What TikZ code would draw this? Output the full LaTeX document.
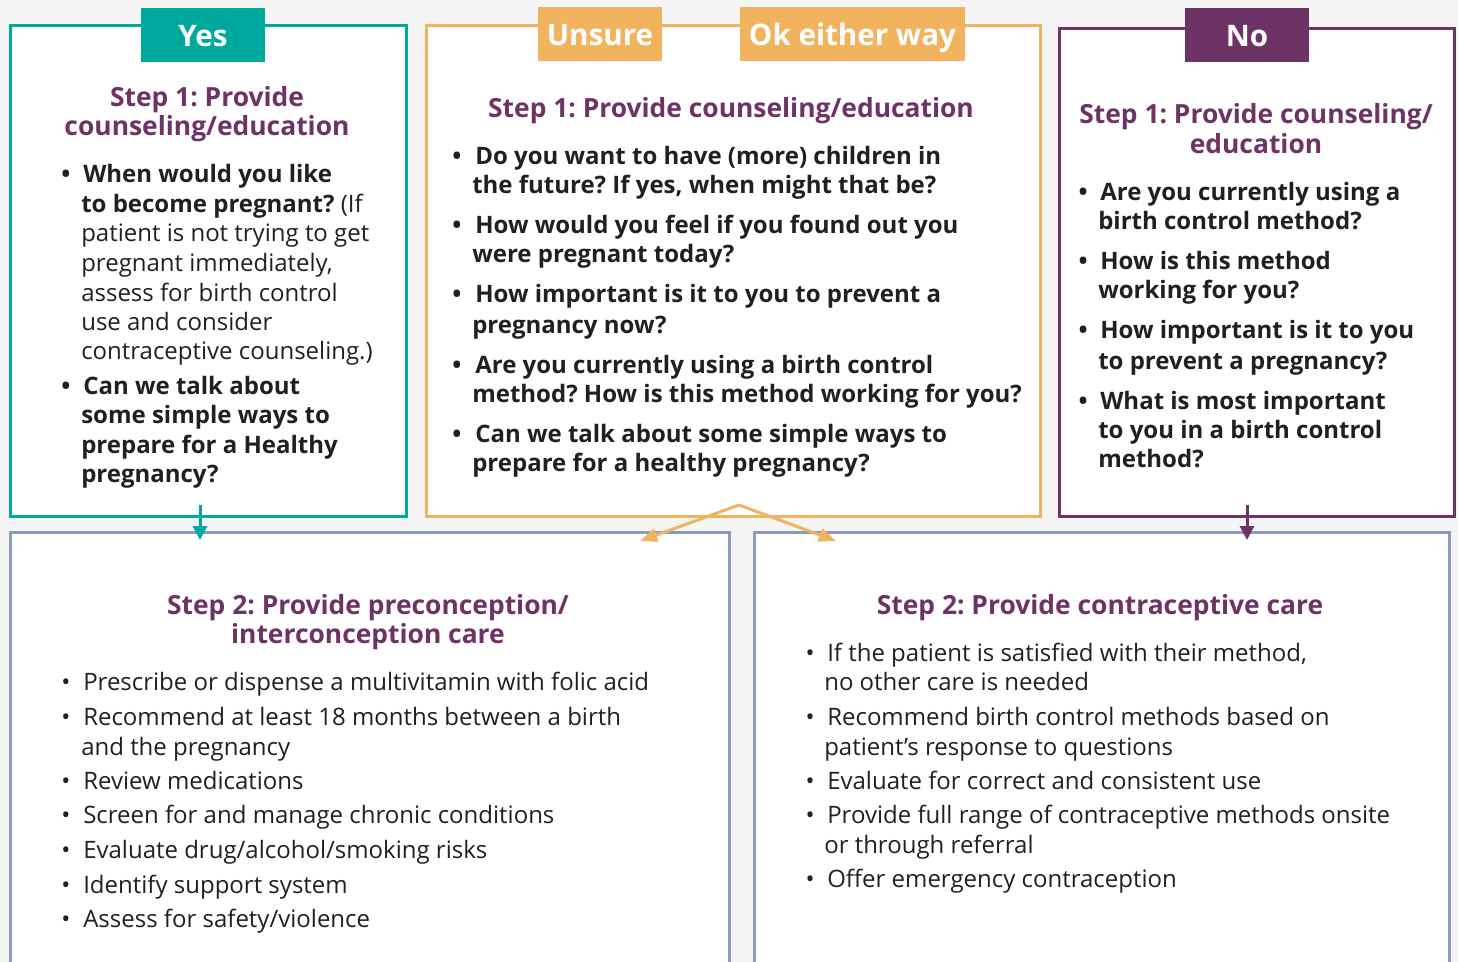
\documentclass[tikz,border=0pt]{standalone}
\usepackage{fontspec}
\setmainfont{Open Sans}
\usetikzlibrary{arrows.meta}
\frenchspacing
\definecolor{bgc}{HTML}{F5F5F5}
\definecolor{teal1}{HTML}{00A99D}
\definecolor{orng}{HTML}{F2B35E}
\definecolor{plum}{HTML}{6E3366}
\definecolor{slate}{HTML}{8A9BBB}
\definecolor{ink}{HTML}{231F20}
\newcounter{lnc}\newcounter{blc}
\tikzset{
  txt/.style={anchor=base west, inner sep=0pt, text=ink, font=\fontsize{18}{22}\selectfont},
  btxt/.style={txt, font=\fontsize{18}{22}\selectfont\bfseries},
  bul/.style={anchor=base, inner sep=0pt, text=ink, font=\fontsize{18}{22}\selectfont},
  bbul/.style={bul, font=\fontsize{18}{22}\selectfont\bfseries},
  head/.style={anchor=base, inner sep=0pt, text=plum, font=\fontsize{19.8}{23}\selectfont\bfseries},
  frame/.style={fill=white, line width=2.25pt, anchor=north west, inner sep=0pt},
  tag/.style={text=white, inner sep=0pt, minimum height=40.5pt, text height=19.5pt, text depth=2pt, font=\fontsize{22.2}{26}\selectfont\bfseries},
}
\newcommand\Lin[4][txt]{\stepcounter{lnc}\node[#1] (ln\arabic{lnc}) at (#2,{#3+1}) {#4};}
\newcommand\Bul[3][bul]{\stepcounter{blc}\node[#1] (bl\arabic{blc}) at (#2,{#3+1}) {\textbullet};}
\begin{document}
\begin{tikzpicture}[x=0.75pt,y=-0.75pt]
\fill[bgc] (0,0) rectangle (1458,962);
\useasboundingbox (0,0) rectangle (1458,962);
\clip (0,0) rectangle (1458,962);
% frames
\node[frame, draw=teal1, minimum width=297pt, minimum height=368.25pt] (yesbox) at (9,24) {};
\node[frame, draw=orng, minimum width=460.5pt, minimum height=368.25pt] (unsbox) at (425,24) {};
\node[frame, draw=plum, minimum width=296.25pt, minimum height=366pt] (nobox) at (1058,27) {};
\node[frame, draw=slate, minimum width=539.25pt, minimum height=360pt] (prebox) at (9,531) {};
\node[frame, draw=slate, minimum width=521.25pt, minimum height=360pt] (conbox) at (753,531) {};
% tags
\node[tag, fill=teal1, minimum width=93pt] (yestag) at (203,35) {Yes};
\node[tag, fill=orng, minimum width=93pt] (unstag) at (600,34) {Unsure};
\node[tag, fill=orng, minimum width=168.75pt] (oktag) at (852.5,34) {Ok either way};
\node[tag, fill=plum, minimum width=93pt] (notag) at (1247,35) {No};
% Yes box
\node[head] (yh1) at (207,107) {Step 1: Provide};
\node[head] (yh2) at (207,136) {counseling/education};
\Bul[bbul]{66}{182}
\Lin[btxt]{83}{182}{When would you like}
\Lin{81}{212}{\textbf{to become pregnant?} (If}
\Lin{81}{241}{patient is not trying to get}
\Lin{81}{271}{pregnant immediately,}
\Lin{81}{300}{assess for birth control}
\Lin{81}{329}{use and consider}
\Lin{81}{358}{contraceptive counseling.)}
\Bul[bbul]{66}{393}
\Lin[btxt]{83}{393}{Can we talk about}
\Lin[btxt]{81}{422}{some simple ways to}
\Lin[btxt]{81}{452}{prepare for a Healthy}
\Lin[btxt]{81}{481}{pregnancy?}
% Unsure box
\node[head] (uh1) at (731,118) {Step 1: Provide counseling/education};
\Bul[bbul]{457}{164}
\Lin[btxt]{475}{164}{Do you want to have (more) children in}
\Lin[btxt]{472}{193}{the future? If yes, when might that be?}
\Bul[bbul]{457}{233}
\Lin[btxt]{475}{233}{How would you feel if you found out you}
\Lin[btxt]{472}{262}{were pregnant today?}
\Bul[bbul]{457}{302}
\Lin[btxt]{475}{302}{How important is it to you to prevent a}
\Lin[btxt]{472}{332}{pregnancy now?}
\Bul[bbul]{457}{372}
\Lin[btxt]{475}{372}{Are you currently using a birth control}
\Lin[btxt]{472}{401}{method? How is this method working for you?}
\Bul[bbul]{457}{441}
\Lin[btxt]{475}{441}{Can we talk about some simple ways to}
\Lin[btxt]{472}{470}{prepare for a healthy pregnancy?}
% No box
\node[head] (nh1) at (1256,124) {Step 1: Provide counseling/};
\node[head] (nh2) at (1256,154) {education};
\Bul[bbul]{1083}{200}
\Lin[btxt]{1100}{200}{Are you currently using a}
\Lin[btxt]{1098}{229}{birth control method?}
\Bul[bbul]{1083}{269}
\Lin[btxt]{1100}{269}{How is this method}
\Lin[btxt]{1098}{298}{working for you?}
\Bul[bbul]{1083}{338}
\Lin[btxt]{1100}{338}{How important is it to you}
\Lin[btxt]{1098}{368}{to prevent a pregnancy?}
\Bul[bbul]{1083}{408}
\Lin[btxt]{1100}{408}{What is most important}
\Lin[btxt]{1098}{437}{to you in a birth control}
\Lin[btxt]{1098}{466}{method?}
% Preconception box
\node[head] (ph1) at (368,614) {Step 2: Provide preconception/};
\node[head] (ph2) at (368,643) {interconception care};
\Bul{66}{689}\Lin{83}{689}{Prescribe or dispense a multivitamin with folic acid}
\Bul{66}{724}\Lin{83}{724}{Recommend at least 18 months between a birth}
\Lin{81}{754}{and the pregnancy}
\Bul{66}{788}\Lin{83}{788}{Review medications}
\Bul{66}{822}\Lin{83}{822}{Screen for and manage chronic conditions}
\Bul{66}{857}\Lin{83}{857}{Evaluate drug/alcohol/smoking risks}
\Bul{66}{892}\Lin{83}{892}{Identify support system}
\Bul{66}{926}\Lin{83}{926}{Assess for safety/violence}
% Contraceptive box
\node[head] (ch1) at (1100,614) {Step 2: Provide contraceptive care};
\Bul{810}{660}\Lin{827}{660}{If the patient is satisfied with their method,}
\Lin{824}{689}{no other care is needed}
\Bul{810}{724}\Lin{827}{724}{Recommend birth control methods based on}
\Lin{824}{754}{patient’s response to questions}
\Bul{810}{788}\Lin{827}{788}{Evaluate for correct and consistent use}
\Bul{810}{822}\Lin{827}{822}{Provide full range of contraceptive methods onsite}
\Lin{824}{852}{or through referral}
\Bul{810}{886}\Lin{827}{886}{Offer emergency contraception}
% arrows
\coordinate (ya) at (200,505);
\coordinate (yb) at (200,540);
\coordinate (na) at (1247,505);
\coordinate (nb) at (1247,540);
\coordinate (apex) at (739,505);
\coordinate (ul) at (640,541);
\coordinate (ur) at (836,541);
\draw[teal1, line width=2.25pt, -{Triangle[width=10.5pt,length=10.5pt]}] (ya) -- (yb);
\draw[plum, line width=2.25pt, -{Triangle[width=10.5pt,length=10.5pt]}] (na) -- (nb);
\draw[orng, line width=2.25pt, -{Triangle[width=10pt,length=13pt]}] (apex) -- (ul);
\draw[orng, line width=2.25pt, -{Triangle[width=10pt,length=13pt]}] (apex) -- (ur);
\end{tikzpicture}
\end{document}
